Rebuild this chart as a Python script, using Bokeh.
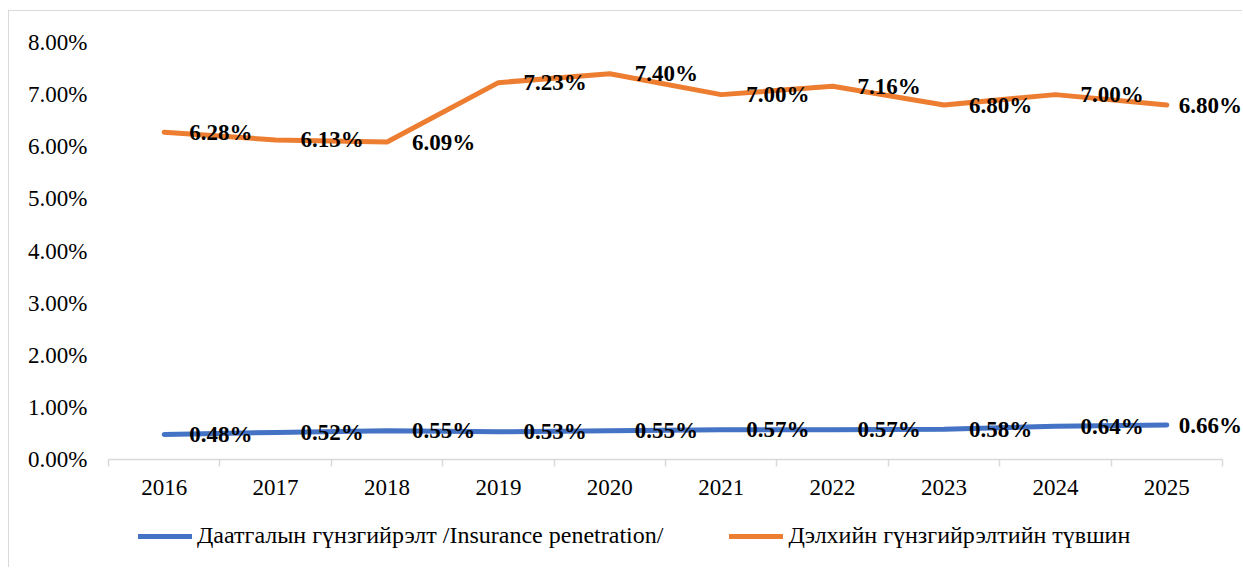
import numpy as np
from bokeh.plotting import figure
from bokeh.layouts import column
from bokeh.models import (ColumnDataSource, FixedTicker, NumeralTickFormatter,
                          Legend, LegendItem, Range1d)
from bokeh.core.properties import value
from bokeh.embed import file_html
from bokeh.resources import INLINE

years = ["2016", "2017", "2018", "2019", "2020", "2021", "2022", "2023", "2024", "2025"]
penetration = [0.48, 0.52, 0.55, 0.53, 0.55, 0.57, 0.57, 0.58, 0.64, 0.66]
world_level = [6.28, 6.13, 6.09, 7.23, 7.40, 7.00, 7.16, 6.80, 7.00, 6.80]
series_names = ["Даатгалын гүнзгийрэлт /Insurance penetration/",
                "Дэлхийн гүнзгийрэлтийн түвшин"]
y_ticks = [0.00, 0.01, 0.02, 0.03, 0.04, 0.05, 0.06, 0.07, 0.08]

FONT = "Liberation Serif"
BLUE = "#4472C4"
ORANGE = "#ED7D31"
GRAY = "#d9d9d9"

W = 1233
LEFT = 99
AXIS_W = 1114          # pixel width of the category axis
FRAME_W = W - LEFT     # frame runs to the right edge so end labels are not clipped
n = len(years)

xpos = np.arange(n) + 0.5
# labels sit to the right of points; the last one is pulled in to fit
label_dx = [25] * (n - 1) + [12]
src = ColumnDataSource(dict(
    x=xpos,
    pen=np.array(penetration) / 100.0,
    world=np.array(world_level) / 100.0,
    pen_lbl=[f"{v:.2f}%" for v in penetration],
    world_lbl=[f"{v:.2f}%" for v in world_level],
    dx=label_dx,
))

p = figure(width=W, height=503, output_backend="svg", toolbar_location=None,
           x_range=Range1d(0, n * FRAME_W / AXIS_W), y_range=Range1d(0, 0.08),
           min_border_left=LEFT, min_border_right=0, min_border_top=31,
           min_border_bottom=55)
p.outline_line_color = None
p.grid.visible = False

r1 = p.line("x", "pen", source=src, line_color=BLUE, line_width=5, line_cap="round", line_join="round")
r2 = p.line("x", "world", source=src, line_color=ORANGE, line_width=5, line_cap="round", line_join="round")

for col, lbl in (("pen", "pen_lbl"), ("world", "world_lbl")):
    p.text("x", col, text=lbl, source=src, x_offset="dx", text_align="left",
           text_baseline="middle", text_font=value(FONT), text_font_style="bold",
           text_font_size="23px", text_color="black")

# x axis
xa = p.xaxis[0]
xa.bounds = (0, n)
xa.ticker = FixedTicker(ticks=list(xpos), minor_ticks=list(range(n + 1)))
xa.major_label_overrides = {float(x): y for x, y in zip(xpos, years)}
xa.major_tick_out = 0
xa.major_tick_in = 0
xa.minor_tick_out = 7
xa.minor_tick_in = 0
xa.minor_tick_line_color = GRAY
xa.axis_line_color = GRAY
xa.axis_line_width = 1.5
xa.minor_tick_line_width = 1.5
xa.major_label_text_font = FONT
xa.major_label_text_font_size = "23px"
xa.major_label_text_color = "black"
xa.major_label_standoff = 13

# y axis
ya = p.yaxis[0]
ya.ticker = FixedTicker(ticks=y_ticks)
ya.formatter = NumeralTickFormatter(format="0.00%")
ya.axis_line_color = None
ya.major_tick_line_color = None
ya.minor_tick_line_color = None
ya.major_label_text_font = FONT
ya.major_label_text_font_size = "23px"
ya.major_label_text_color = "black"
ya.major_label_standoff = 15

# legend strip below the chart (proxy lines use the same data, kept out of view)
q = figure(width=W, height=53, output_backend="svg", toolbar_location=None,
           x_range=Range1d(0, n), y_range=Range1d(1, 2),
           x_axis_location=None, y_axis_location=None,
           min_border_left=LEFT, min_border_right=0, min_border_top=0, min_border_bottom=0)
q.grid.visible = False
q.outline_line_color = None
l1 = q.line("x", "pen", source=src, line_color=BLUE, line_width=5, line_cap="round")
l2 = q.line("x", "world", source=src, line_color=ORANGE, line_width=5, line_cap="round")
legend = Legend(items=[LegendItem(label=series_names[0], renderers=[l1]),
                       LegendItem(label=series_names[1], renderers=[l2])],
                orientation="horizontal", location=(30, 18),
                padding=0, margin=0, spacing=66, label_standoff=5,
                glyph_width=54, glyph_height=24, label_height=24,
                label_text_font=FONT, label_text_font_size="24px",
                label_text_color="black", border_line_color=None,
                background_fill_alpha=0)
q.add_layout(legend, "center")

layout = column(p, q, spacing=0)
layout.styles = {"border-left": "1px solid #d9d9d9", "border-top": "1px solid #d9d9d9",
                 "margin-left": "8px", "margin-top": "10px"}

open("out.html", "w").write(file_html(layout, INLINE))
